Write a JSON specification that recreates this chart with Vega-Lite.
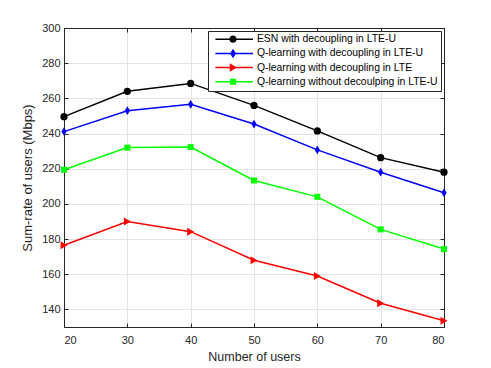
{
  "$schema": "https://vega.github.io/schema/vega-lite/v6.json",
  "width": 380,
  "height": 299,
  "autosize": "none",
  "padding": {"left": 64, "top": 28, "right": 47, "bottom": 41},
  "background": "white",
  "config": {
    "font": "Liberation Sans",
    "view": {"stroke": "#262626", "strokeWidth": 1},
    "axis": {
      "domainColor": "#262626",
      "tickColor": "#262626",
      "tickSize": -4,
      "labelColor": "#262626",
      "labelFontSize": 11,
      "labelFont": "Liberation Sans",
      "titleFont": "Liberation Sans",
      "titleColor": "#262626",
      "titleFontWeight": "normal",
      "gridColor": "#e3e3e3"
    }
  },
  "data": {
    "values": [
      {"users": 20, "series": "ESN with decoupling in LTE-U", "rate": 249.6},
      {"users": 30, "series": "ESN with decoupling in LTE-U", "rate": 264.0},
      {"users": 40, "series": "ESN with decoupling in LTE-U", "rate": 268.5},
      {"users": 50, "series": "ESN with decoupling in LTE-U", "rate": 256.0},
      {"users": 60, "series": "ESN with decoupling in LTE-U", "rate": 241.5},
      {"users": 70, "series": "ESN with decoupling in LTE-U", "rate": 226.3},
      {"users": 80, "series": "ESN with decoupling in LTE-U", "rate": 218.0},
      {"users": 20, "series": "Q-learning with decoupling in LTE-U", "rate": 241.1},
      {"users": 30, "series": "Q-learning with decoupling in LTE-U", "rate": 253.0},
      {"users": 40, "series": "Q-learning with decoupling in LTE-U", "rate": 256.6},
      {"users": 50, "series": "Q-learning with decoupling in LTE-U", "rate": 245.4},
      {"users": 60, "series": "Q-learning with decoupling in LTE-U", "rate": 230.7},
      {"users": 70, "series": "Q-learning with decoupling in LTE-U", "rate": 218.0},
      {"users": 80, "series": "Q-learning with decoupling in LTE-U", "rate": 206.3},
      {"users": 20, "series": "Q-learning with decoupling in LTE", "rate": 176.5},
      {"users": 30, "series": "Q-learning with decoupling in LTE", "rate": 190.0},
      {"users": 40, "series": "Q-learning with decoupling in LTE", "rate": 184.2},
      {"users": 50, "series": "Q-learning with decoupling in LTE", "rate": 168.0},
      {"users": 60, "series": "Q-learning with decoupling in LTE", "rate": 159.0},
      {"users": 70, "series": "Q-learning with decoupling in LTE", "rate": 143.5},
      {"users": 80, "series": "Q-learning with decoupling in LTE", "rate": 133.5},
      {"users": 20, "series": "Q-learning without decoulping in LTE-U", "rate": 219.4},
      {"users": 30, "series": "Q-learning without decoulping in LTE-U", "rate": 232.0},
      {"users": 40, "series": "Q-learning without decoulping in LTE-U", "rate": 232.3},
      {"users": 50, "series": "Q-learning without decoulping in LTE-U", "rate": 213.3},
      {"users": 60, "series": "Q-learning without decoulping in LTE-U", "rate": 204.0},
      {"users": 70, "series": "Q-learning without decoulping in LTE-U", "rate": 185.5},
      {"users": 80, "series": "Q-learning without decoulping in LTE-U", "rate": 174.3}
    ]
  },
  "layer": [
    {
      "transform": [{"filter": "datum.series === 'ESN with decoupling in LTE-U'"}],
      "mark": {"type": "line", "strokeWidth": 1.5, "color": "#000000", "point": {"filled": true, "opacity": 1, "shape": "circle", "size": 52, "color": "#000000"}},
      "encoding": {
        "x": {
          "field": "users", "type": "quantitative",
          "scale": {"domain": [20, 80], "nice": false, "zero": false},
          "axis": {"values": [20, 30, 40, 50, 60, 70, 80], "grid": true, "title": "Number of users", "titleFontSize": 12.5, "titlePadding": 5, "labelPadding": 11}
        },
        "y": {
          "field": "rate", "type": "quantitative",
          "scale": {"domain": [130, 300], "nice": false, "zero": false},
          "axis": {"values": [140, 160, 180, 200, 220, 240, 260, 280, 300], "grid": true, "title": "Sum-rate of users (Mbps)", "titleFontSize": 13, "titlePadding": 7, "labelPadding": 8}
        }
      }
    },
    {
      "transform": [{"filter": "datum.series === 'Q-learning with decoupling in LTE-U'"}],
      "mark": {"type": "line", "strokeWidth": 1.5, "color": "#0000ff", "point": {"filled": true, "opacity": 1, "shape": "M0,-1.25L0.75,0L0,1.25L-0.75,0Z", "size": 49, "color": "#0000ff"}},
      "encoding": {
        "x": {"field": "users", "type": "quantitative", "axis": null},
        "y": {"field": "rate", "type": "quantitative", "axis": null}
      }
    },
    {
      "transform": [{"filter": "datum.series === 'Q-learning with decoupling in LTE'"}],
      "mark": {"type": "line", "strokeWidth": 1.5, "color": "#ff0000", "point": {"filled": true, "opacity": 1, "shape": "triangle-right", "size": 64, "color": "#ff0000"}},
      "encoding": {
        "x": {"field": "users", "type": "quantitative", "axis": null},
        "y": {"field": "rate", "type": "quantitative", "axis": null}
      }
    },
    {
      "transform": [{"filter": "datum.series === 'Q-learning without decoulping in LTE-U'"}],
      "mark": {"type": "line", "strokeWidth": 1.5, "color": "#00ff00", "point": {"filled": true, "opacity": 1, "shape": "square", "size": 36, "color": "#00ff00"}},
      "encoding": {
        "x": {"field": "users", "type": "quantitative", "axis": null},
        "y": {"field": "rate", "type": "quantitative", "axis": null}
      }
    },
    {
      "mark": {"type": "point", "filled": true, "opacity": 0, "size": 100},
      "encoding": {
        "x": {"field": "users", "type": "quantitative", "axis": {"orient": "top", "values": [20, 30, 40, 50, 60, 70, 80], "labels": false, "grid": false, "title": null}},
        "y": {"field": "rate", "type": "quantitative", "axis": {"orient": "right", "values": [140, 160, 180, 200, 220, 240, 260, 280, 300], "labels": false, "grid": false, "title": null}},
        "color": {
          "field": "series", "type": "nominal",
          "scale": {
            "domain": ["ESN with decoupling in LTE-U", "Q-learning with decoupling in LTE-U", "Q-learning with decoupling in LTE", "Q-learning without decoulping in LTE-U"],
            "range": ["#000000", "#0000ff", "#ff0000", "#00ff00"]
          },
          "legend": {
            "title": null,
            "orient": "top-right",
            "offset": 3,
            "padding": 3,
            "rowPadding": 3.2,
            "labelFontSize": 10.4,
            "labelColor": "#000000",
            "labelFont": "Liberation Sans",
            "labelOffset": 35.5,
            "labelLimit": 400,
            "symbolSize": 100,
            "symbolStrokeWidth": 0,
            "symbolOpacity": 1,
            "strokeColor": "#262626",
            "fillColor": "#ffffff",
            "cornerRadius": 0
          }
        },
        "shape": {
          "field": "series", "type": "nominal",
          "scale": {
            "domain": ["ESN with decoupling in LTE-U", "Q-learning with decoupling in LTE-U", "Q-learning with decoupling in LTE", "Q-learning without decoulping in LTE-U"],
            "range": [
              "M-0.16,-0.15H7.36V0.15H-0.16Z M4.08,0A0.72,0.72 0 1,1 2.64,0A0.72,0.72 0 1,1 4.08,0Z",
              "M-0.16,-0.15H7.36V0.15H-0.16Z M3.36,-0.95L3.96,0L3.36,0.95L2.76,0Z",
              "M-0.16,-0.15H7.36V0.15H-0.16Z M2.71,-0.85L4.16,0L2.71,0.85Z",
              "M-0.16,-0.15H7.36V0.15H-0.16Z M2.76,-0.6H3.96V0.6H2.76Z"
            ]
          },
          "legend": {
            "title": null,
            "orient": "top-right",
            "offset": 3,
            "padding": 3,
            "rowPadding": 3.2,
            "labelFontSize": 10.4,
            "labelColor": "#000000",
            "labelFont": "Liberation Sans",
            "labelOffset": 35.5,
            "labelLimit": 400,
            "symbolSize": 100,
            "symbolStrokeWidth": 0,
            "symbolOpacity": 1,
            "strokeColor": "#262626",
            "fillColor": "#ffffff",
            "cornerRadius": 0
          }
        }
      }
    }
  ],
  "resolve": {"axis": {"x": "independent", "y": "independent"}}
}
